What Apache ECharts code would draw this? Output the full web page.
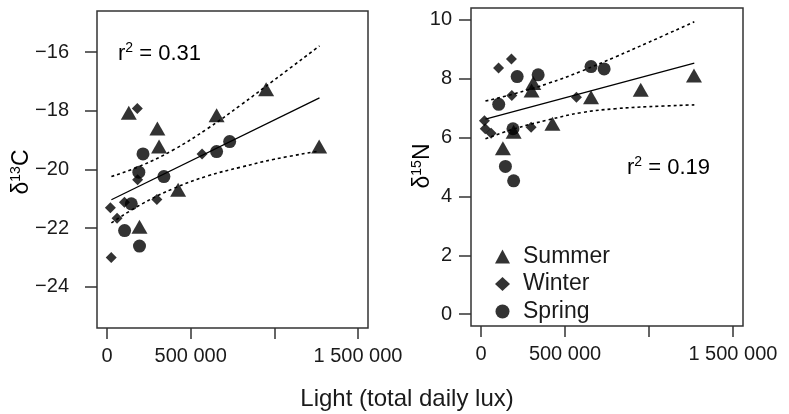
<!DOCTYPE html>
<html>
<head>
<meta charset="utf-8">
<script src="https://cdn.jsdelivr.net/npm/echarts@6/dist/echarts.min.js"></script>
<style>
  html, body { margin: 0; padding: 0; background: #fff; }
  #main { width: 789px; height: 414px; }
</style>
</head>
<body>
<div id="main"></div>
<script>
// 光照 (total daily lux) 与同位素值，按季节
const summerLight = [130000, 194000, 301000, 311000, 425000, 655000, 951000, 1268000]
const summerC = [-18.07, -21.95, -18.6, -19.22, -20.69, -18.15, -17.27, -19.22]
const summerN = [5.64, 6.2, 7.6, 7.85, 6.47, 7.37, 7.62, 8.11]

const winterLight = [20000, 25000, 60000, 104000, 181000, 183000, 298000, 568000]
const winterC = [-21.3, -23.0, -21.66, -21.12, -17.92, -20.35, -21.02, -19.47]
const winterN = [6.57, 6.3, 6.15, 8.36, 8.67, 7.43, 6.35, 7.37]

const springLight = [105000, 145000, 190000, 194000, 215000, 340000, 655000, 733000]
const springC = [-22.08, -21.17, -20.09, -22.61, -19.47, -20.24, -19.39, -19.05]
const springN = [7.13, 5.02, 6.3, 4.53, 8.07, 8.13, 8.41, 8.33]

// 回归线与置信带
const fitLight = [26000, 1270000]
const fitC = [-21.03, -17.56]
const fitN = [6.63, 8.53]
const bandLight = [26000, 200000, 400000, 600000, 800000, 1000000, 1270000]
const upperC = [-20.24, -19.88, -19.32, -18.61, -17.80, -16.95, -15.79]
const lowerC = [-21.82, -21.20, -20.64, -20.22, -19.92, -19.65, -19.37]
const upperN = [7.24, 7.49, 7.84, 8.26, 8.74, 9.24, 9.93]
const lowerN = [5.96, 6.3, 6.6, 6.85, 6.98, 7.05, 7.11]

// 刻度
const lightTicks = [0, 500000, 1000000, 1500000]
const lightLabelValues = [0, 500000, 1500000]
const cTicks = [-24, -22, -20, -18, -16]
const nTicks = [0, 2, 4, 6, 8, 10]

const zip = (xs, ys) => xs.map((x, i) => [x, ys[i]])
const font = 'Liberation Sans, Arial, Helvetica, sans-serif'
const ink = '#1a1a1a'
const frame = '#333'

const dom = document.getElementById('main')
const myChart = echarts.init(dom)

function xAxisFor (gridIndex) {
  return {
    gridIndex,
    type: 'value',
    position: 'bottom',
    min: -60000,
    max: 1560000,
    axisLine: { show: false, onZero: false },
    splitLine: { show: false },
    axisTick: { show: true, inside: false, length: 11, customValues: lightTicks, lineStyle: { color: frame, width: 1.5 } },
    axisLabel: {
      customValues: lightLabelValues,
      margin: 18,
      color: ink,
      fontFamily: font,
      fontSize: 20,
      formatter: v => v === 0 ? '0' : String(v).replace(/\B(?=(\d{3})+(?!\d))/g, ' ')
    }
  }
}

function yAxisFor (gridIndex, min, max, ticks, margin) {
  return {
    gridIndex,
    type: 'value',
    min,
    max,
    axisLine: { show: false, onZero: false },
    splitLine: { show: false },
    axisTick: { show: true, inside: false, length: 12, customValues: ticks, lineStyle: { color: frame, width: 1.5 } },
    axisLabel: {
      customValues: ticks,
      margin,
      color: ink,
      fontFamily: font,
      fontSize: 20,
      formatter: v => v < 0 ? '\u2212' + Math.abs(v) : String(v)
    }
  }
}

function scatter (name, symbol, size, xs, ys, idx) {
  return {
    name,
    type: 'scatter',
    xAxisIndex: idx,
    yAxisIndex: idx,
    symbol,
    symbolSize: size,
    itemStyle: { color: '#000' },
    data: zip(xs, ys),
    z: 3
  }
}

function line (xs, ys, idx, dotted) {
  return {
    type: 'line',
    xAxisIndex: idx,
    yAxisIndex: idx,
    showSymbol: false,
    smooth: dotted ? 0.4 : false,
    silent: true,
    lineStyle: { color: '#000', width: dotted ? 1.6 : 1.3, type: dotted ? [3, 3] : 'solid' },
    data: zip(xs, ys),
    z: 2
  }
}

const richSup = {
  m: { fontFamily: font, fontSize: 22, color: ink, lineHeight: 26 },
  s: { fontFamily: font, fontSize: 14, color: ink, lineHeight: 26, verticalAlign: 'top' }
}

const option = {
  animation: false,
  grid: [
    { left: 97, top: 11, width: 271, height: 317, show: true, borderColor: frame, borderWidth: 1.5, backgroundColor: 'transparent' },
    { left: 471, top: 8, width: 272, height: 318, show: true, borderColor: frame, borderWidth: 1.5, backgroundColor: 'transparent' }
  ],
  xAxis: [xAxisFor(0), xAxisFor(1)],
  yAxis: [
    yAxisFor(0, -25.4, -14.6, cTicks, 28),
    yAxisFor(1, -0.4, 10.4, nTicks, 19)
  ],
  legend: {
    data: [
      { name: 'Summer', icon: 'triangle' },
      { name: 'Winter', icon: 'diamond' },
      { name: 'Spring', icon: 'circle' }
    ],
    orient: 'vertical',
    left: 490,
    top: 240,
    itemWidth: 15,
    itemHeight: 14,
    itemGap: 4.5,
    symbolKeepAspect: true,
    textStyle: { fontFamily: font, fontSize: 23, color: ink, lineHeight: 22, padding: [0, 0, 0, 8] }
  },
  series: [
    line(fitLight, fitC, 0, false),
    line(bandLight, upperC, 0, true),
    line(bandLight, lowerC, 0, true),
    scatter('Summer', 'triangle', [16, 14], summerLight, summerC, 0),
    scatter('Winter', 'diamond', [11, 11], winterLight, winterC, 0),
    scatter('Spring', 'circle', 13, springLight, springC, 0),
    line(fitLight, fitN, 1, false),
    line(bandLight, upperN, 1, true),
    line(bandLight, lowerN, 1, true),
    scatter('Summer', 'triangle', [16, 14], summerLight, summerN, 1),
    scatter('Winter', 'diamond', [11, 11], winterLight, winterN, 1),
    scatter('Spring', 'circle', 13, springLight, springN, 1)
  ],
  graphic: [
    { type: 'text', x: 118, y: 54, style: { text: '{m|r}{s|2}{m| = 0.31}', rich: richSup, verticalAlign: 'middle' } },
    { type: 'text', x: 627, y: 168, style: { text: '{m|r}{s|2}{m| = 0.19}', rich: richSup, verticalAlign: 'middle' } },
    {
      type: 'text', x: 22, y: 172, rotation: Math.PI / 2,
      style: {
        text: '{m|\u03b4}{s|13}{m|C}', align: 'center', verticalAlign: 'middle',
        rich: { m: { fontFamily: font, fontSize: 23, color: ink, lineHeight: 26 }, s: { fontFamily: font, fontSize: 14, color: ink, lineHeight: 26, verticalAlign: 'top' } }
      }
    },
    {
      type: 'text', x: 423, y: 166, rotation: Math.PI / 2,
      style: {
        text: '{m|\u03b4}{s|15}{m|N}', align: 'center', verticalAlign: 'middle',
        rich: { m: { fontFamily: font, fontSize: 23, color: ink, lineHeight: 26 }, s: { fontFamily: font, fontSize: 14, color: ink, lineHeight: 26, verticalAlign: 'top' } }
      }
    },
    { type: 'text', x: 407, y: 399, style: { text: 'Light (total daily lux)', align: 'center', verticalAlign: 'middle', fontFamily: font, fontSize: 24, fill: ink } }
  ]
}

myChart.setOption(option)
</script>
</body>
</html>
